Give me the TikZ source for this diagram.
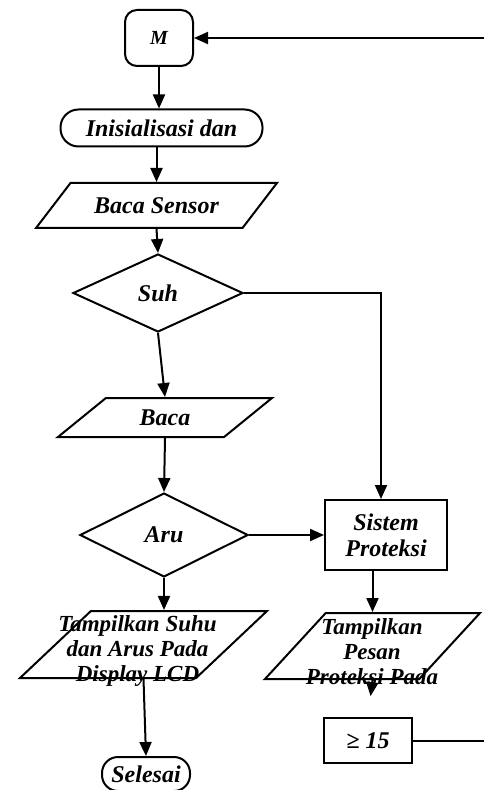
\documentclass[tikz,border=0pt]{standalone}
\usepackage{fontspec}
\setmainfont{Liberation Serif}
\usetikzlibrary{shapes.geometric,arrows.meta}
\tikzset{
  base/.style = {draw, line width=1pt, font=\fontsize{12}{12.5}\selectfont\bfseries\itshape, inner sep=1pt, align=center},
  terminal/.style = {base, rectangle, rounded corners=#1},
  proses/.style = {base, rectangle},
  io/.style = {base, trapezium, trapezium stretches=true, trapezium left angle=#1},
  keputusan/.style = {base, diamond},
  teks/.style = {font=\fontsize{11.5}{12.5}\selectfont\bfseries\itshape, align=center, inner sep=0pt},
  line/.style = {line width=1pt},
  >={Triangle[length=7pt,width=6pt]}
}
\begin{document}
\begin{tikzpicture}[x=0.5pt,y=-0.5pt]
\useasboundingbox (0,0) rectangle (484,790);
\node[terminal=6pt, minimum width=34pt, minimum height=28pt, font=\fontsize{10}{12}\selectfont\bfseries\itshape] (mulai) at (159,38) {M};
\node[terminal=9pt, minimum width=101pt, minimum height=18.5pt] (init) at (161.5,128) {Inisialisasi dan};
\node[io=38, trapezium right angle=142, minimum width=121.5pt, minimum height=22.5pt] (sensor) at (156.5,205.5) {Baca Sensor};
\node[keputusan, minimum width=85pt, minimum height=39pt] (suhu) at (158,293) {Suh};
\node[io=42, trapezium right angle=138, minimum width=107pt, minimum height=19.5pt] (baca) at (165,417.5) {Baca};
\node[keputusan, minimum width=84pt, minimum height=42pt] (arus) at (164,535) {Aru};
\node[proses, minimum width=61pt, minimum height=35pt, font=\fontsize{12}{13}\selectfont\bfseries\itshape] (proteksi) at (386,535) {Sistem\\Proteksi};
\node[io=56, trapezium right angle=124, minimum width=123.5pt, minimum height=33.5pt] (tampil) at (143.5,644.5) {};
\node[teks] (tampilteks) at (137.5,651) {Tampilkan Suhu\\dan Arus Pada\\Display LCD};
\node[io=57, trapezium right angle=123, minimum width=107.5pt, minimum height=33pt] (pesan) at (372.5,646) {};
\node[teks] (pesanteks) at (372,652) {Tampilkan\\Pesan\\Proteksi Pada};
\node[proses, minimum width=44pt, minimum height=22.5pt] (batas) at (368,740.5) {≥ 15};
\node[terminal=8pt, minimum width=44pt, minimum height=17pt] (selesai) at (146,774) {Selesai};
\coordinate (masuk) at (484,38);
\coordinate (keluar) at (484,740.5);
\coordinate (belok) at (381,293);
\draw[line,->] (masuk) -- (mulai.east);
\draw[line,->] (mulai.south) -- (mulai.south |- init.north);
\draw[line,->] (init.south -| sensor.north) -- (sensor.north);
\draw[line,->] (sensor.south) -- (suhu.north);
\draw[line,->] (suhu.east) -- (belok) -- (belok |- proteksi.north);
\draw[line,->] (suhu.south) -- (baca.north);
\draw[line,->] (baca.south) -- (arus.north);
\draw[line,->] (arus.east) -- (proteksi.west);
\draw[line,->] (arus.south) -- (arus.south |- tampil.north);
\draw[line,->] (pesan.north |- proteksi.south) -- (pesan.north);
\draw[line,->,shorten >=10.5pt] (pesan.south) -- (batas.north);
\draw[line] (batas.east) -- (keluar);
\draw[line,->] (tampil.south) -- (selesai.north);
\end{tikzpicture}
\end{document}
